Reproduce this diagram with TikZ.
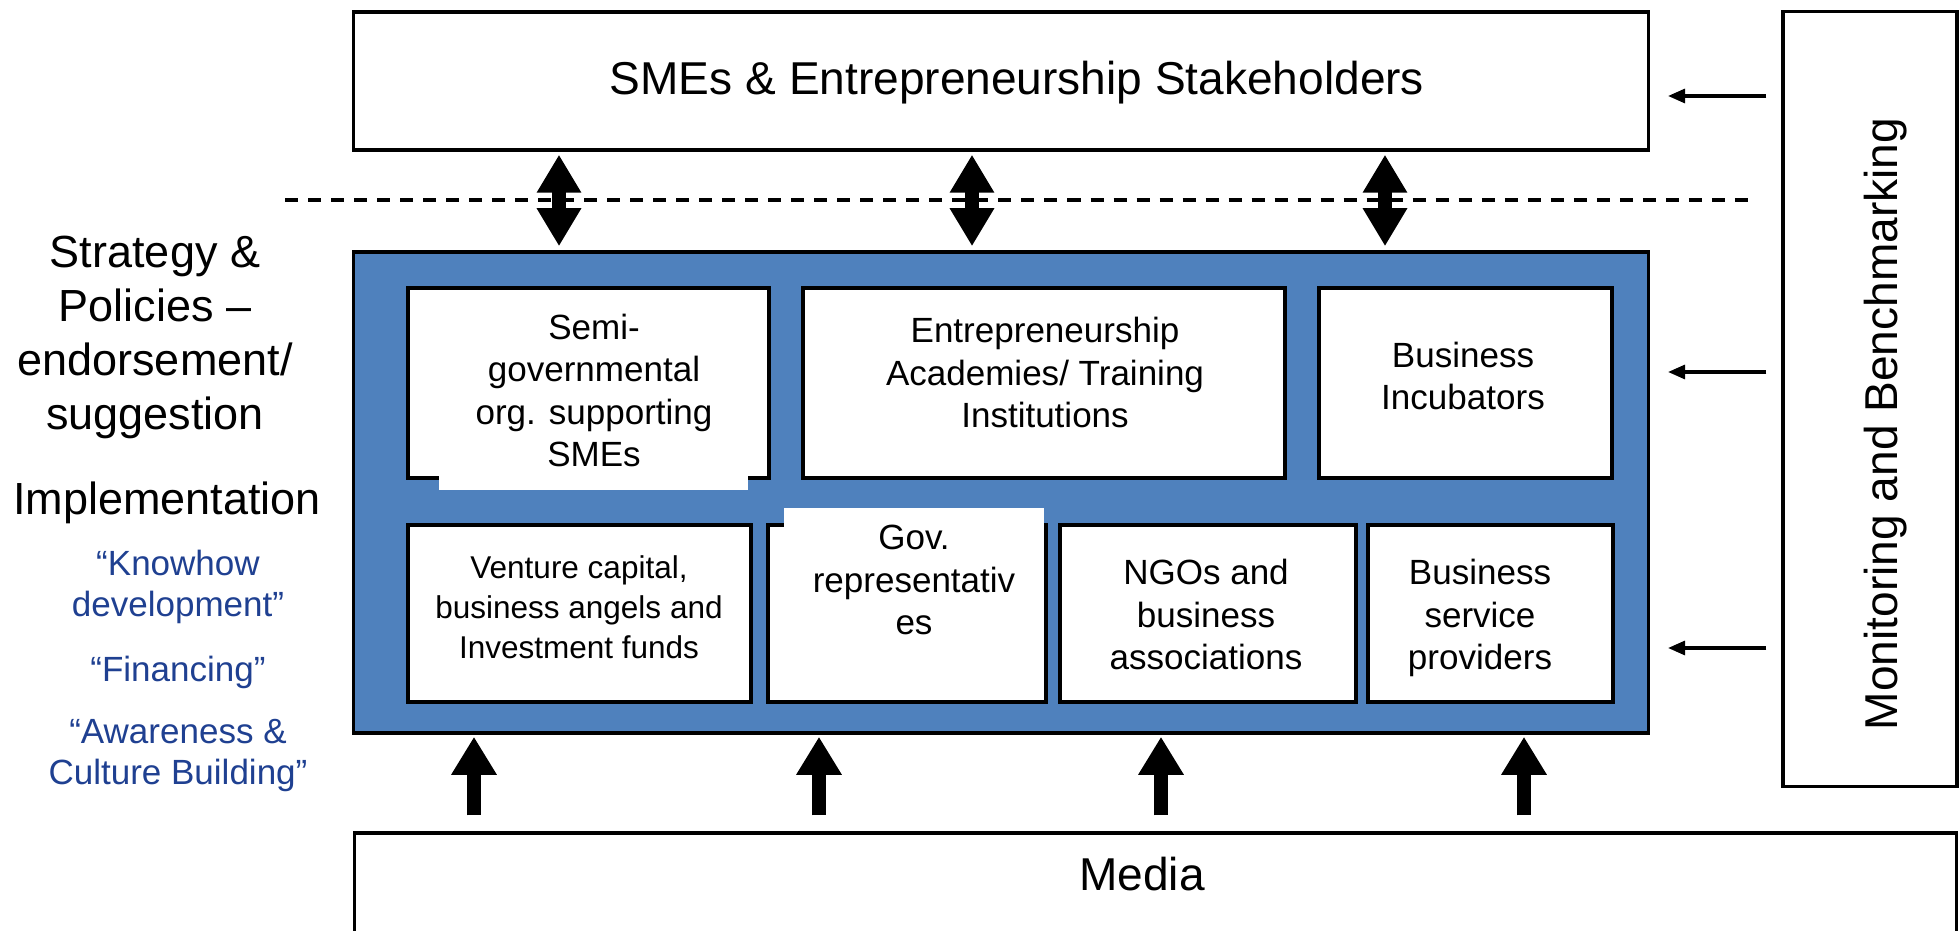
\documentclass[tikz,border=0pt]{standalone}
\usepackage{fontspec}
\setmainfont{Liberation Sans}
\usetikzlibrary{arrows.meta}
\definecolor{panelblue}{RGB}{79,129,189}
\definecolor{ideablue}{RGB}{31,64,145}

\begin{document}
\begin{tikzpicture}[x=0.01cm, y=-0.01cm]
%% all positions are given in pixels of the 1960x931 drawing, y grows downwards
%% box sizes are given in cm (1 pixel = 0.01cm)
%% multi-line labels are placed at the baseline of their last line
\tikzstyle{unitbox}=[rectangle, draw=black, line width=0.95pt, fill=white, inner sep=0pt]
\tikzstyle{bigtext}=[font=\fontsize{13.1pt}{15.4pt}\selectfont, anchor=base, inner sep=0pt]
\tikzstyle{sidetext}=[font=\fontsize{12.8pt}{15.36pt}\selectfont, align=center, anchor=base, inner sep=0pt]
\tikzstyle{ideatext}=[font=\fontsize{9.96pt}{11.67pt}\selectfont, align=center, anchor=base, inner sep=0pt, text=ideablue]
\tikzstyle{boxtext}=[font=\fontsize{9.96pt}{12.1pt}\selectfont, align=center, anchor=base, inner sep=0pt]
\tikzstyle{smalltext}=[font=\fontsize{8.96pt}{11.4pt}\selectfont, align=center, anchor=base, inner sep=0pt]
\tikzstyle{dblarrow}=[line width=0.14cm, {Triangle[length=0.38cm,width=0.42cm]}-{Triangle[length=0.38cm,width=0.42cm]}]
\tikzstyle{uparrow}=[line width=0.14cm, -{Triangle[length=0.38cm,width=0.43cm]}]
\tikzstyle{fbarrow}=[line width=0.9pt, -{Triangle[length=0.17cm,width=0.14cm]}]
\tikzstyle{sepline}=[line width=1pt, dash pattern=on 0.13cm off 0.10cm]
\useasboundingbox (0,0) rectangle (1960,931);
%% outer boxes
\node[unitbox, minimum width=12.94cm, minimum height=1.38cm] at (1001,81) (stake) {};
\node[unitbox, minimum width=1.74cm, minimum height=7.74cm] at (1870,399) (monitor) {};
\node[unitbox, fill=panelblue, minimum width=12.94cm, minimum height=4.81cm] at (1001,492.5) (support) {};
\node[unitbox, minimum width=16.01cm, minimum height=1.20cm] at (1155.5,893) (media) {};
%% upper row of the blue panel
\node[unitbox, minimum width=3.61cm, minimum height=1.90cm] at (588.5,383) (semi) {};
\node[unitbox, minimum width=4.82cm, minimum height=1.90cm] at (1044,383) (academy) {};
\node[unitbox, minimum width=2.93cm, minimum height=1.90cm] at (1465.5,383) (incub) {};
%% lower row of the blue panel
\node[unitbox, minimum width=3.43cm, minimum height=1.77cm] at (579.5,613.5) (venture) {};
\node[unitbox, minimum width=2.78cm, minimum height=1.77cm] at (907,613.5) (gov) {};
\node[unitbox, minimum width=2.96cm, minimum height=1.77cm] at (1208,613.5) (ngo) {};
\node[unitbox, minimum width=2.45cm, minimum height=1.77cm] at (1490.5,613.5) (bsp) {};
%% white text frames that run over the box borders
\fill[white] (439,474) rectangle (748,490);
\fill[white] (784,508) rectangle (1044,527);
%% labels of the outer boxes
\node[bigtext] at (1017,95) (stakelabel) {SMEs \& Entrepreneurship Stakeholders};
\node[bigtext] at (1142,891) (medialabel) {Media};
\node[bigtext, rotate=90] at (1897,424) (monlabel) {Monitoring and Benchmarking};
%% labels on the left side
\node[sidetext] at (155,430) (strategy) {Strategy \&\\Policies –\\endorsement/\\suggestion};
\node[sidetext] at (167,515) (impl) {Implementation};
\node[ideatext] at (178,617) (knowhow) {“Knowhow\\development”};
\node[ideatext] at (178,682) (finance) {“Financing”};
\node[ideatext] at (178,785) (aware) {“Awareness \&\\Culture Building”};
%% labels of the inner boxes
\node[boxtext] at (594,467) (semilabel) {Semi-\\governmental\\org. supporting\\SMEs};
\node[boxtext] at (1045,428) (academylabel) {Entrepreneurship\\Academies/ Training\\Institutions};
\node[boxtext] at (1463,410) (incublabel) {Business\\Incubators};
\node[smalltext] at (579,659) (venturelabel) {Venture capital,\\business angels and\\Investment funds};
\node[boxtext] at (914,635) (govlabel) {Gov.\\representativ\\es};
\node[boxtext] at (1206,670) (ngolabel) {NGOs and\\business\\associations};
\node[boxtext] at (1480,670) (bsplabel) {Business\\service\\providers};
%% arrows
\draw[sepline] (285,200) -- (1750,200);
\foreach \x in {559,972,1385}
  \draw[dblarrow, shorten <=0.03cm, shorten >=0.04cm] (stake.south -| \x,0) -- (support.north -| \x,0);
\foreach \x in {474,819,1161,1524}
  \draw[uparrow, shorten <=0.16cm, shorten >=0.02cm] (media.north -| \x,0) -- (support.south -| \x,0);
\draw[fbarrow, shorten <=0.15cm, shorten >=0.18cm] (monitor.west |- 0,96) -- (stake.east |- 0,96);
\draw[fbarrow, shorten <=0.15cm, shorten >=0.18cm] (monitor.west |- 0,372) -- (support.east |- 0,372);
\draw[fbarrow, shorten <=0.15cm, shorten >=0.18cm] (monitor.west |- 0,648) -- (support.east |- 0,648);
\end{tikzpicture}
\end{document}
